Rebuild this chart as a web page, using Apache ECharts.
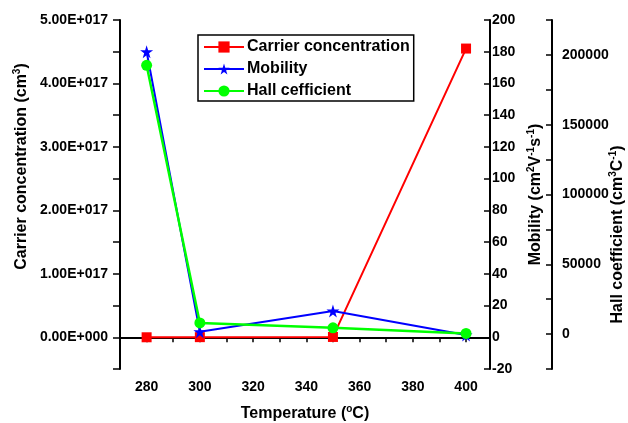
<!DOCTYPE html>
<html>
<head>
<meta charset="utf-8">
<script src="https://cdn.jsdelivr.net/npm/echarts@6/dist/echarts.min.js"></script>
<style>
  html, body { margin: 0; padding: 0; background: #fff; }
  #chart { width: 628px; height: 423px; }
</style>
</head>
<body>
<div id="chart"></div>
<script>
const temperature = [280, 300, 350, 400];
const carrierConc = [0, 0.002e17, 0.005e17, 4.55e17];
const mobility = [180, 3.5, 16.5, 1.5];
const hallCoef = [192500, 8000, 4500, 500];

const font = 'Liberation Sans, Arial, sans-serif';
const starPath = 'path://M50,0 L61,35 L98,35 L68,57 L79,91 L50,70 L21,91 L32,57 L2,35 L39,35 Z';

// superscript style used in the axis names
const supStyle = { fontSize: 10, fontWeight: 'bold', fontFamily: font, color: '#000', padding: [0, 0, 10, 0] };
const nameStyle = (pad) => ({
  fontSize: 16, fontWeight: 'bold', fontFamily: font, color: '#000',
  padding: pad, rich: { sup: supStyle }
});
const lbl = { fontSize: 14, fontWeight: 'bold', fontFamily: font, color: '#000' };
const axisLine = { show: true, lineStyle: { color: '#000', width: 2 } };

const pair = (x, y) => x.map((v, i) => [v, y[i]]);

const chart = echarts.init(document.getElementById('chart'));
chart.setOption({
  animation: false,
  grid: { left: 120, right: 138, top: 20, bottom: 54, outerBoundsMode: 'none', containLabel: false },
  legend: {
    orient: 'vertical',
    left: 198, top: 35,
    padding: [4, 4, 2, 5],
    itemWidth: 40, itemHeight: 14, itemGap: 6,
    borderColor: '#000', borderWidth: 1.5,
    backgroundColor: '#fff',
    textStyle: { fontSize: 16, fontWeight: 'bold', fontFamily: font, color: '#000', padding: [0, 0, 0, -2] },
    data: ['Carrier concentration', 'Mobility', 'Hall cefficient']
  },
  xAxis: {
    type: 'value', min: 270, max: 409, interval: 10,
    name: 'Temperature ({sup|o}C)',
    nameLocation: 'middle', nameGap: 35, nameMoveOverlap: false,
    nameTextStyle: nameStyle(0),
    axisLine: axisLine,
    axisTick: { show: true, inside: false, length: 5, lineStyle: { color: '#000', width: 1.5 } },
    axisLabel: { ...lbl, margin: 11, formatter: v => (v % 20 === 0 && v <= 400 ? v : '') },
    splitLine: { show: false }
  },
  yAxis: [{
    type: 'value', min: -0.5e17, max: 5e17, interval: 0.5e17,
    name: 'Carrier concentration (cm{sup|3})',
    nameLocation: 'middle', nameGap: 88, nameMoveOverlap: false,
    nameTextStyle: nameStyle([0, 0, 0, 56]),
    axisLine: axisLine,
    axisTick: { show: true, inside: false, length: 7, lineStyle: { color: '#000', width: 1.5 } },
    axisLabel: {
      ...lbl, margin: 12,
      formatter: v => {
        if (Math.round(v / 0.5e17) % 2 !== 0) return '';
        const [m, e] = v.toExponential(2).split('e');
        const n = parseInt(e, 10);
        return m + 'E' + (n < 0 ? '-' : '+') + String(Math.abs(n)).padStart(3, '0');
      }
    },
    splitLine: { show: false }
  }, {
    type: 'value', position: 'right', min: -20, max: 200, interval: 20,
    name: 'Mobility (cm{sup|2}V{sup|-1}s{sup|-1})',
    nameLocation: 'middle', nameGap: 36, nameMoveOverlap: false,
    nameTextStyle: nameStyle(0),
    axisLine: axisLine,
    axisTick: { show: true, inside: true, length: 6, lineStyle: { color: '#000', width: 1.5 } },
    axisLabel: { ...lbl, margin: 2 },
    splitLine: { show: false }
  }, {
    type: 'value', position: 'right', offset: 62, min: -25000, max: 225000, interval: 25000,
    name: 'Hall coefficient (cm{sup|3}C{sup|-1})',
    nameLocation: 'middle', nameGap: 56, nameMoveOverlap: false,
    nameTextStyle: nameStyle([0, 80, 0, 0]),
    axisLine: axisLine,
    axisTick: { show: true, inside: true, length: 6, lineStyle: { color: '#000', width: 1.5 } },
    axisLabel: { ...lbl, margin: 10, formatter: v => (v >= 0 && v % 50000 === 0 ? v : '') },
    splitLine: { show: false }
  }],
  series: [{
    name: 'Carrier concentration', type: 'line', yAxisIndex: 0,
    data: pair(temperature, carrierConc),
    symbol: 'rect', symbolSize: 10,
    lineStyle: { color: '#ff0000', width: 2 },
    itemStyle: { color: '#ff0000' }
  }, {
    name: 'Mobility', type: 'line', yAxisIndex: 1,
    data: pair(temperature, mobility),
    symbol: starPath, symbolSize: 13,
    lineStyle: { color: '#0000ff', width: 2 },
    itemStyle: { color: '#0000ff' }
  }, {
    name: 'Hall cefficient', type: 'line', yAxisIndex: 2,
    data: pair(temperature, hallCoef),
    symbol: 'circle', symbolSize: 11,
    lineStyle: { color: '#00ff00', width: 2.5 },
    itemStyle: { color: '#00ff00' }
  }]
});
</script>
</body>
</html>
